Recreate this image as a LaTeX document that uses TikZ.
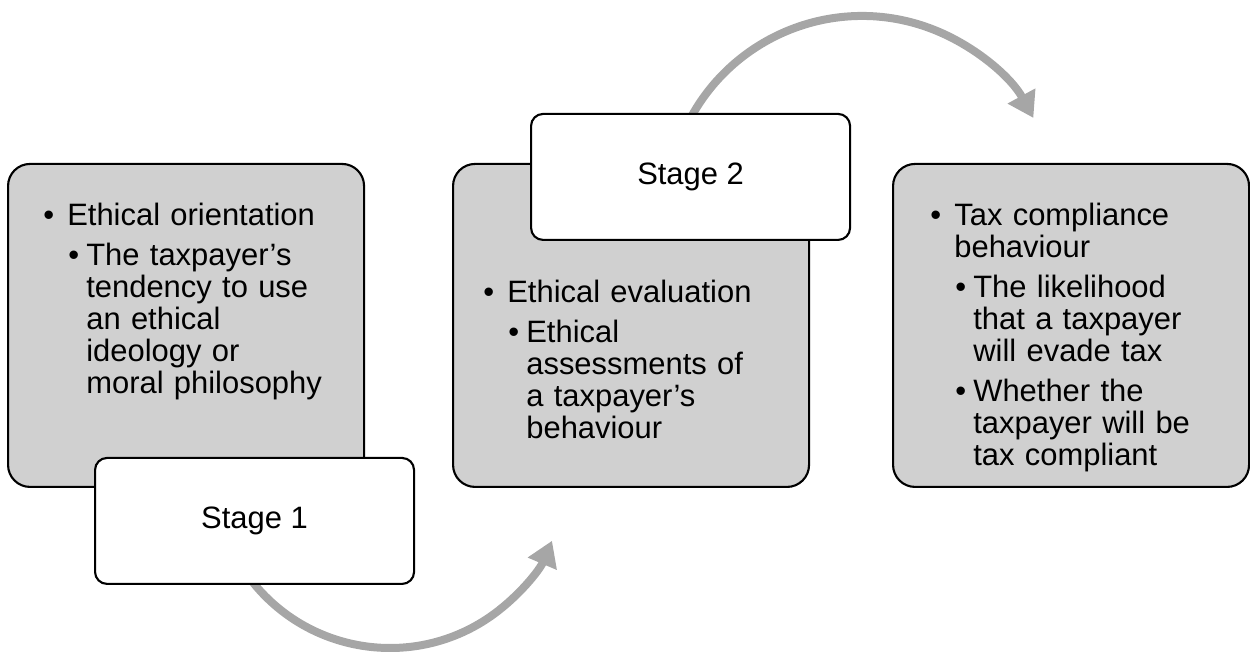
\documentclass[tikz,border=0pt]{standalone}
\usepackage{fontspec}
\setmainfont{Liberation Sans}
\usetikzlibrary{arrows.meta, positioning}

\definecolor{panelgray}{HTML}{D0D0D0}
\definecolor{arrowgray}{HTML}{A6A6A6}

\newcommand{\bul}[1]{\noindent\hangindent=0.48cm\hangafter=1\makebox[0.48cm][l]{\textbullet}#1\par}
\newcommand{\subbul}[1]{\noindent\hskip0.50cm\hangindent=0.86cm\hangafter=1\makebox[0.36cm][l]{\textbullet}#1\par}

\begin{document}
\begin{tikzpicture}[
    panel/.style={draw, line width=1.2pt, fill=panelgray, rounded corners=0.44cm,
      minimum width=7.12cm, minimum height=6.46cm, anchor=south west, inner sep=0pt},
    stagebox/.style={draw, line width=1.2pt, fill=white, rounded corners=0.24cm,
      minimum width=6.38cm, minimum height=2.52cm, anchor=south west, inner sep=0pt,
      font=\fontsize{17.6pt}{18.4pt}\selectfont},
    blurb/.style={anchor=north west, text width=6.6cm, align=left, inner sep=0pt,
      font=\fontsize{17.6pt}{18.2pt}\selectfont\setlength{\parskip}{0.16cm}},
    flow/.style={draw=arrowgray, line width=0.16cm, -{Triangle[length=0.5cm, width=0.6cm]}}]
    \useasboundingbox (0,0) rectangle (25,13.06);

    % centres of the two curved arrows
    \coordinate (c1) at (7.8,3.62);
    \coordinate (c2) at (17.24,8.84);
    \draw[flow] (c1) ++(216:3.52) arc[start angle=216, end angle=337, radius=3.52];
    \draw[flow] (c2) ++(158:3.9) arc[start angle=158, end angle=28.5, radius=3.9];

    \node[panel] (b1) at (0.14,3.30) {};
    \node[panel] (b2) at (9.04,3.30) {};
    \node[panel] (b3) at (17.84,3.30) {};

    \node[stagebox] (s1) at (1.88,1.36) {Stage 1};
    \node[stagebox] (s2) at (10.6,8.24) {Stage 2};

    \node[blurb] (t1) at (0.86,9.01) {\bul{Ethical orientation}%
      \subbul{The taxpayer’s\newline tendency to use\newline an ethical\newline ideology or\newline moral philosophy}};
    \node[blurb] (t2) at (9.66,7.47) {\bul{Ethical evaluation}%
      \subbul{Ethical\newline assessments of\newline a taxpayer’s\newline behaviour}};
    \node[blurb] (t3) at (18.6,9.01) {\bul{Tax compliance\newline behaviour}%
      \subbul{The likelihood\newline that a taxpayer\newline will evade tax}%
      \subbul{Whether the\newline taxpayer will be\newline tax compliant}};
\end{tikzpicture}
\end{document}
